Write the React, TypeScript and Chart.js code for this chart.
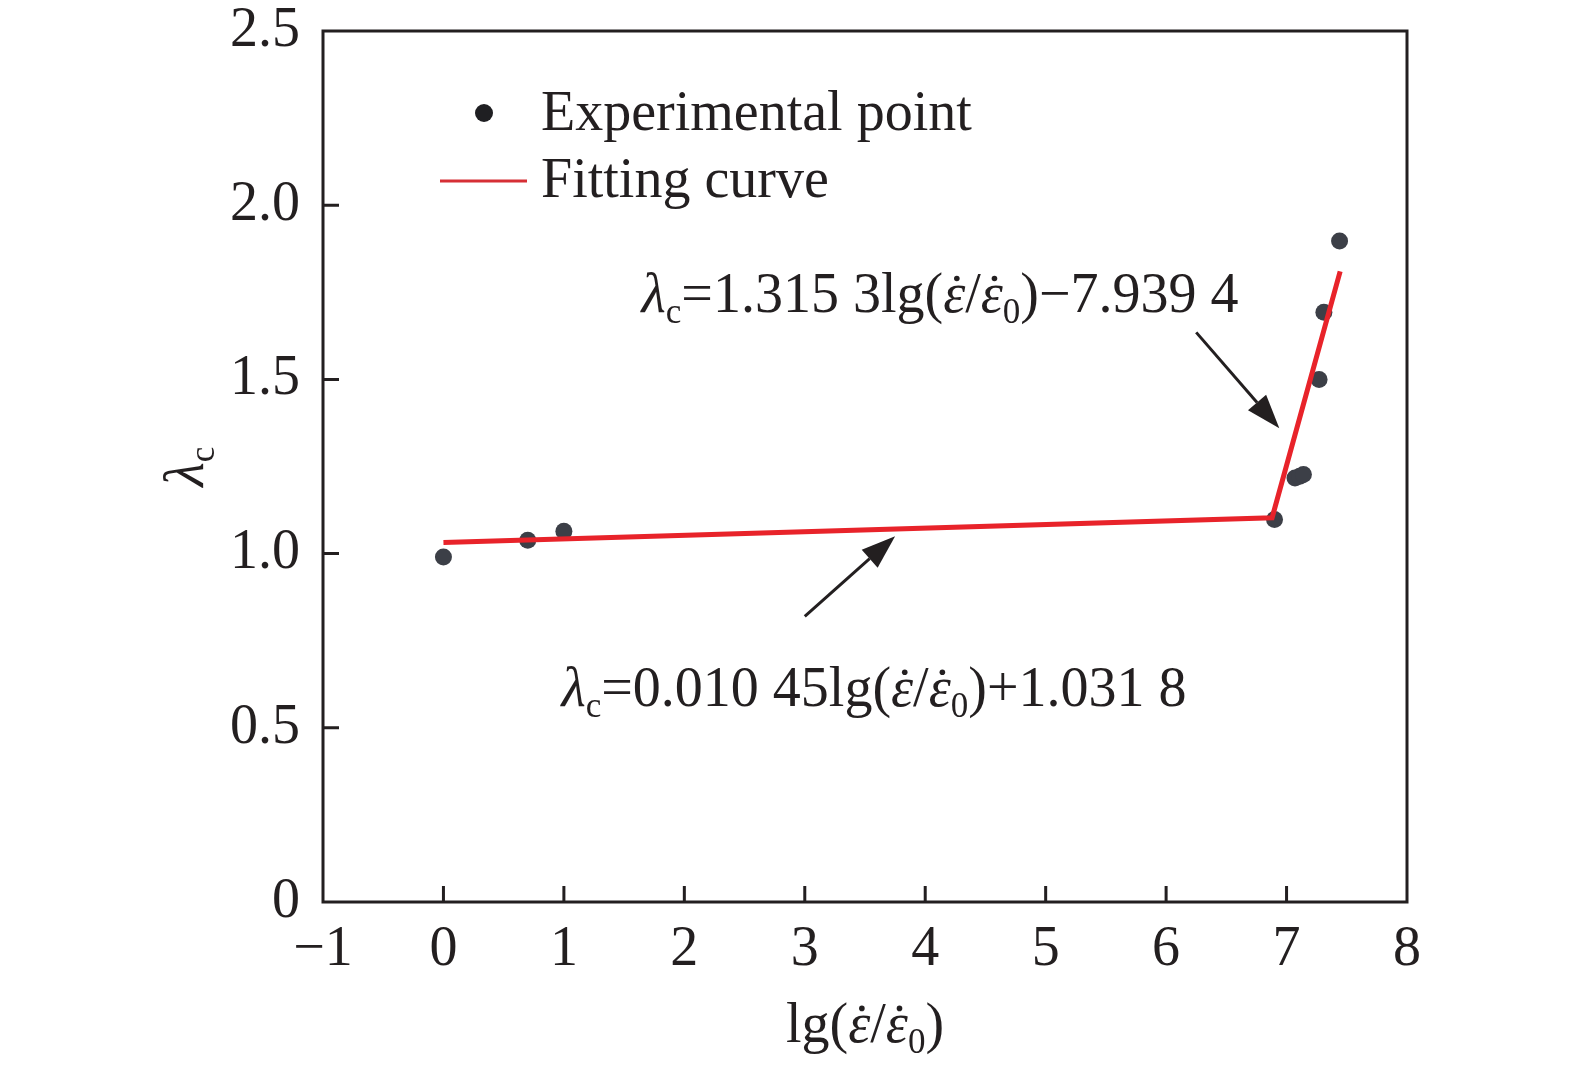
import { useEffect, useRef } from 'react';
import Chart from 'chart.js/auto';

// experimental points
const expX = [0, 0.7, 1.0, 6.9, 7.07, 7.11, 7.14, 7.27, 7.31, 7.44];
const expY = [0.99, 1.038, 1.064, 1.098, 1.217, 1.222, 1.227, 1.5, 1.693, 1.897];
// fitted broken line (two segments)
const fitX = [0, 6.88, 7.445];
const fitY = [1.032, 1.103, 1.81];
const xTicks = [-1, 0, 1, 2, 3, 4, 5, 6, 7, 8];
const yTicks = [0, 0.5, 1.0, 1.5, 2.0, 2.5];

const INK = '#231f20';
const RED = '#e8232a';
const DOT = '#3c3f47';
const SERIF = '"Liberation Serif", "Times New Roman", serif';
const FS = 56;

type Run = { t: string; it?: boolean; sub?: boolean; dot?: boolean };

const eqUpper: Run[] = [
  { t: 'λ', it: true }, { t: 'c', sub: true }, { t: '=1.315 3lg(' },
  { t: 'ε', it: true, dot: true }, { t: '/' }, { t: 'ε', it: true, dot: true },
  { t: '0', sub: true }, { t: ')−7.939 4' },
];
const eqLower: Run[] = [
  { t: 'λ', it: true }, { t: 'c', sub: true }, { t: '=0.010 45lg(' },
  { t: 'ε', it: true, dot: true }, { t: '/' }, { t: 'ε', it: true, dot: true },
  { t: '0', sub: true }, { t: ')+1.031 8' },
];
const xTitle: Run[] = [
  { t: 'lg(' }, { t: 'ε', it: true, dot: true }, { t: '/' },
  { t: 'ε', it: true, dot: true }, { t: '0', sub: true }, { t: ')' },
];
const yTitle: Run[] = [{ t: 'λ', it: true }, { t: 'c', sub: true }];

function runFont(r: Run) {
  return `${r.it ? 'italic ' : ''}${r.sub ? Math.round(FS * 0.62) : FS}px ${SERIF}`;
}

function runsWidth(ctx: CanvasRenderingContext2D, runs: Run[]) {
  let w = 0;
  for (const r of runs) { ctx.font = runFont(r); w += ctx.measureText(r.t).width; }
  return w;
}

function drawRuns(ctx: CanvasRenderingContext2D, x: number, y: number, runs: Run[]) {
  let cx = x;
  ctx.fillStyle = INK;
  ctx.textBaseline = 'alphabetic';
  ctx.textAlign = 'left';
  for (const r of runs) {
    ctx.font = runFont(r);
    const w = ctx.measureText(r.t).width;
    ctx.fillText(r.t, cx, r.sub ? y + FS * 0.2 : y);
    if (r.dot) {
      ctx.beginPath();
      ctx.arc(cx + w * 0.62, y - FS * 0.6, 2.8, 0, Math.PI * 2);
      ctx.fill();
    }
    cx += w;
  }
}

function arrow(ctx: CanvasRenderingContext2D, x1: number, y1: number, x2: number, y2: number) {
  const ang = Math.atan2(y2 - y1, x2 - x1);
  const L = 34, W = 12;
  const bx = x2 - L * Math.cos(ang), by = y2 - L * Math.sin(ang);
  ctx.strokeStyle = INK; ctx.fillStyle = INK; ctx.lineWidth = 3;
  ctx.beginPath(); ctx.moveTo(x1, y1); ctx.lineTo(bx, by); ctx.stroke();
  ctx.beginPath();
  ctx.moveTo(x2, y2);
  ctx.lineTo(bx + W * Math.sin(ang), by - W * Math.cos(ang));
  ctx.lineTo(bx - W * Math.sin(ang), by + W * Math.cos(ang));
  ctx.closePath(); ctx.fill();
}

const decor = {
  id: 'decor',
  afterDraw(chart: any) {
    const { ctx, chartArea: a, scales: { x, y } } = chart;
    ctx.save();
    // frame
    ctx.strokeStyle = INK; ctx.lineWidth = 3;
    ctx.strokeRect(a.left, a.top, a.right - a.left, a.bottom - a.top);
    // inward ticks on bottom and left
    ctx.beginPath();
    for (const v of xTicks) {
      const px = x.getPixelForValue(v);
      if (px <= a.left + 2 || px >= a.right - 2) continue;
      ctx.moveTo(px, a.bottom); ctx.lineTo(px, a.bottom - 16);
    }
    for (const v of yTicks) {
      const py = y.getPixelForValue(v);
      if (py <= a.top + 2 || py >= a.bottom - 2) continue;
      ctx.moveTo(a.left, py); ctx.lineTo(a.left + 16, py);
    }
    ctx.stroke();

    // legend
    const lx = a.left, ly = a.top;
    ctx.fillStyle = '#1f1f22';
    ctx.beginPath(); ctx.arc(lx + 161, ly + 82, 9, 0, Math.PI * 2); ctx.fill();
    drawRuns(ctx, lx + 218, ly + 99, [{ t: 'Experimental point' }]);
    ctx.strokeStyle = '#d62f35'; ctx.lineWidth = 3;
    ctx.beginPath(); ctx.moveTo(lx + 117, ly + 150); ctx.lineTo(lx + 204, ly + 150); ctx.stroke();
    drawRuns(ctx, lx + 218, ly + 166, [{ t: 'Fitting curve' }]);

    // annotations
    arrow(ctx, x.getPixelForValue(6.25), y.getPixelForValue(1.635), x.getPixelForValue(6.94), y.getPixelForValue(1.36));
    arrow(ctx, x.getPixelForValue(3.0), y.getPixelForValue(0.82), x.getPixelForValue(3.75), y.getPixelForValue(1.05));
    drawRuns(ctx, x.getPixelForValue(1.645), y.getPixelForValue(1.693), eqUpper);
    drawRuns(ctx, x.getPixelForValue(0.98), y.getPixelForValue(0.563), eqLower);

    // axis titles
    const xw = runsWidth(ctx, xTitle);
    drawRuns(ctx, (a.left + a.right) / 2 - xw / 2, a.bottom + 140, xTitle);
    ctx.translate(a.left - 120, (a.top + a.bottom) / 2);
    ctx.rotate(-Math.PI / 2);
    const yw = runsWidth(ctx, yTitle);
    drawRuns(ctx, -yw / 2, 0, yTitle);
    ctx.restore();
  },
};

export default function App() {
  const canvasRef = useRef<HTMLCanvasElement>(null);

  useEffect(() => {
    document.body.style.margin = '0';
    if (!canvasRef.current) return;
    const tickFont = { family: SERIF, size: FS };
    const chart = new Chart(canvasRef.current, {
      type: 'scatter',
      data: {
        datasets: [
          {
            label: 'Fitting curve',
            data: fitX.map((v, i) => ({ x: v, y: fitY[i] })),
            showLine: true,
            borderColor: RED,
            borderWidth: 5,
            pointRadius: 0,
            order: 0,
          },
          {
            label: 'Experimental point',
            data: expX.map((v, i) => ({ x: v, y: expY[i] })),
            backgroundColor: DOT,
            borderWidth: 0,
            pointRadius: 8.5,
            order: 1,
          },
        ],
      },
      plugins: [decor],
      options: {
        responsive: true,
        maintainAspectRatio: false,
        animation: false,
        layout: { padding: { top: 31, right: 168, left: 0, bottom: 0 } },
        plugins: { legend: { display: false }, tooltip: { enabled: false } },
        scales: {
          x: {
            type: 'linear',
            min: -1,
            max: 8,
            afterBuildTicks: (s: any) => { s.ticks = xTicks.map((v) => ({ value: v })); },
            afterFit: (s: any) => { s.height = 175; s.paddingLeft = 0; s.paddingRight = 0; },
            grid: { display: false },
            border: { display: false },
            ticks: {
              font: tickFont,
              color: INK,
              padding: 7,
              maxRotation: 0,
              callback: (v: any) => (v < 0 ? '−' + Math.abs(v) : String(v)),
            },
          },
          y: {
            type: 'linear',
            min: 0,
            max: 2.5,
            afterBuildTicks: (s: any) => { s.ticks = yTicks.map((v) => ({ value: v })); },
            afterFit: (s: any) => { s.width = 323; s.paddingTop = 0; s.paddingBottom = 0; },
            grid: { display: false },
            border: { display: false },
            ticks: {
              font: tickFont,
              color: INK,
              padding: 15,
              callback: (v: any) => (v === 0 ? '0' : Number(v).toFixed(1)),
            },
          },
        },
      },
    });
    return () => chart.destroy();
  }, []);

  return (
    <div style={{ width: 1575, height: 1077, position: 'relative', background: '#fff' }}>
      <canvas ref={canvasRef} />
    </div>
  );
}
